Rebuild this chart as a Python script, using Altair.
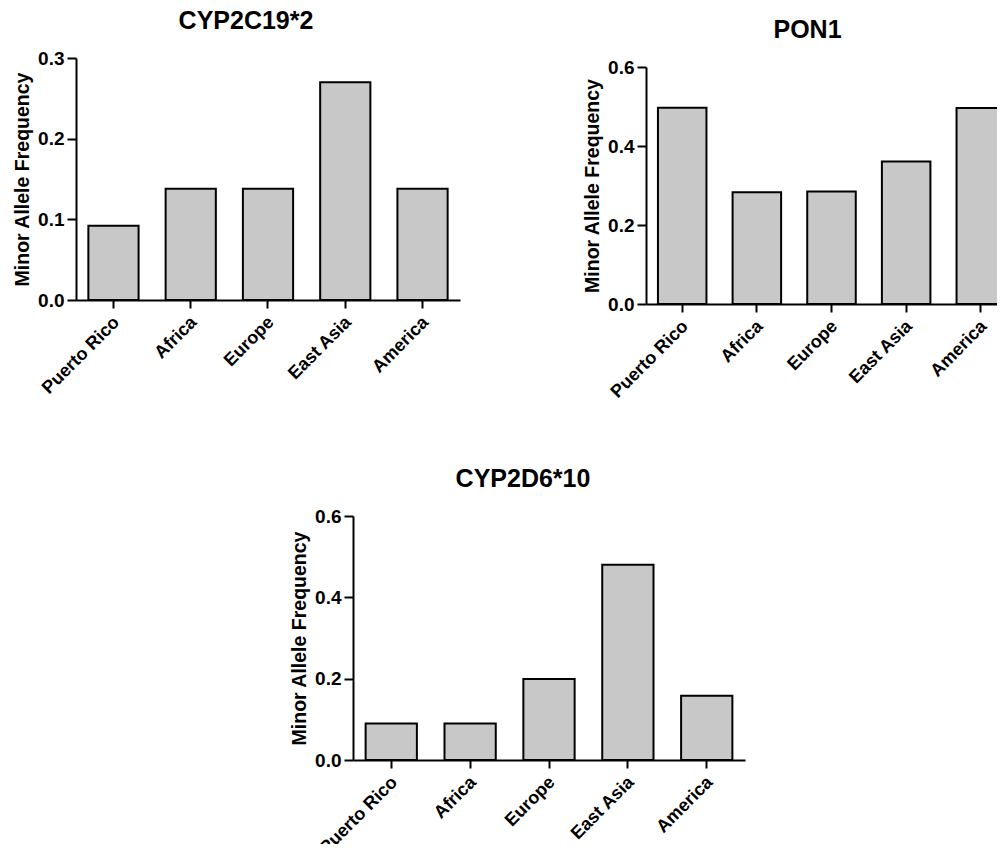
import altair as alt
import pandas as pd

# ---- data ----
regions = ["Puerto Rico", "Africa", "Europe", "East Asia", "America"]
cyp2c19_2_freq = [0.092, 0.138, 0.138, 0.270, 0.138]
pon1_freq = [0.497, 0.283, 0.285, 0.361, 0.496]
cyp2d6_10_freq = [0.090, 0.090, 0.199, 0.480, 0.158]

panel_titles = ["CYP2C19*2", "PON1", "CYP2D6*10"]
y_max = [0.3, 0.6, 0.6]
y_ticks_1 = [0.0, 0.1, 0.2, 0.3]
y_ticks_2 = [0.0, 0.2, 0.4, 0.6]
y_title = "Minor Allele Frequency"

FONT = "Liberation Sans"
BAR_FILL = "#c8c8c8"


def make_panel(title, values, ymax, ticks, width, height, title_dx):
    df = pd.DataFrame({"region": regions, "freq": values})
    x = alt.X(
        "region:N",
        sort=regions,
        scale=alt.Scale(paddingInner=0.35, paddingOuter=0.16),
        axis=alt.Axis(title=None, labelAngle=-45, labelFontSize=18, labelPadding=5,
                      labelOffset=-3, tickSize=8),
    )
    y = alt.Y(
        "freq:Q",
        scale=alt.Scale(domain=[0, ymax], nice=False),
        axis=alt.Axis(
            title=y_title,
            values=ticks,
            format=".1f",
            labelFontSize=19,
            titleFontSize=19.5,
            labelPadding=3,
            titlePadding=5,
            tickSize=9,
        ),
    )
    return (
        alt.Chart(df)
        .mark_bar(fill=BAR_FILL, stroke="black", strokeWidth=2)
        .encode(x=x, y=y)
        .properties(
            width=width,
            height=height,
            title=alt.TitleParams(
                title,
                fontSize=25,
                fontWeight="bold",
                font=FONT,
                color="black",
                anchor="middle",
                frame="group",
                dx=title_dx,
                offset=15,
            ),
        )
    )


def spacer(w, h):
    return (
        alt.Chart(pd.DataFrame({"s": [0]}))
        .mark_rect(opacity=0)
        .encode(x=alt.value(0), x2=alt.value(w), y=alt.value(0), y2=alt.value(h))
        .properties(width=w, height=h)
    )


p1 = make_panel(panel_titles[0], cyp2c19_2_freq, y_max[0], y_ticks_1, 384, 242, -22)
p2 = make_panel(panel_titles[1], pon1_freq, y_max[1], y_ticks_2, 371, 237, -24)
p3 = make_panel(panel_titles[2], cyp2d6_10_freq, y_max[2], y_ticks_2, 392, 244, -26)

row1 = alt.hconcat(
    alt.vconcat(spacer(1, 1), p1, spacing=0),
    alt.vconcat(spacer(1, 10), p2, spacing=0),
    spacing=122,
)
row2 = alt.hconcat(spacer(213, 1), p3, spacing=0)

chart = (
    alt.vconcat(row1, row2, spacing=65)
    .properties(
        padding={"left": 68, "top": 0, "right": 921, "bottom": 836},
        autosize=alt.AutoSizeParams(type="none"),
        background="white",
    )
    .configure_view(strokeWidth=0)
    .configure_axis(
        domainColor="black",
        domainWidth=2,
        tickColor="black",
        tickWidth=2,
        labelFont=FONT,
        labelFontWeight="bold",
        labelColor="black",
        titleFont=FONT,
        titleFontWeight="bold",
        titleColor="black",
        grid=False,
    )
)

chart.save("out.html", embed_options={"renderer": "svg", "actions": False})
